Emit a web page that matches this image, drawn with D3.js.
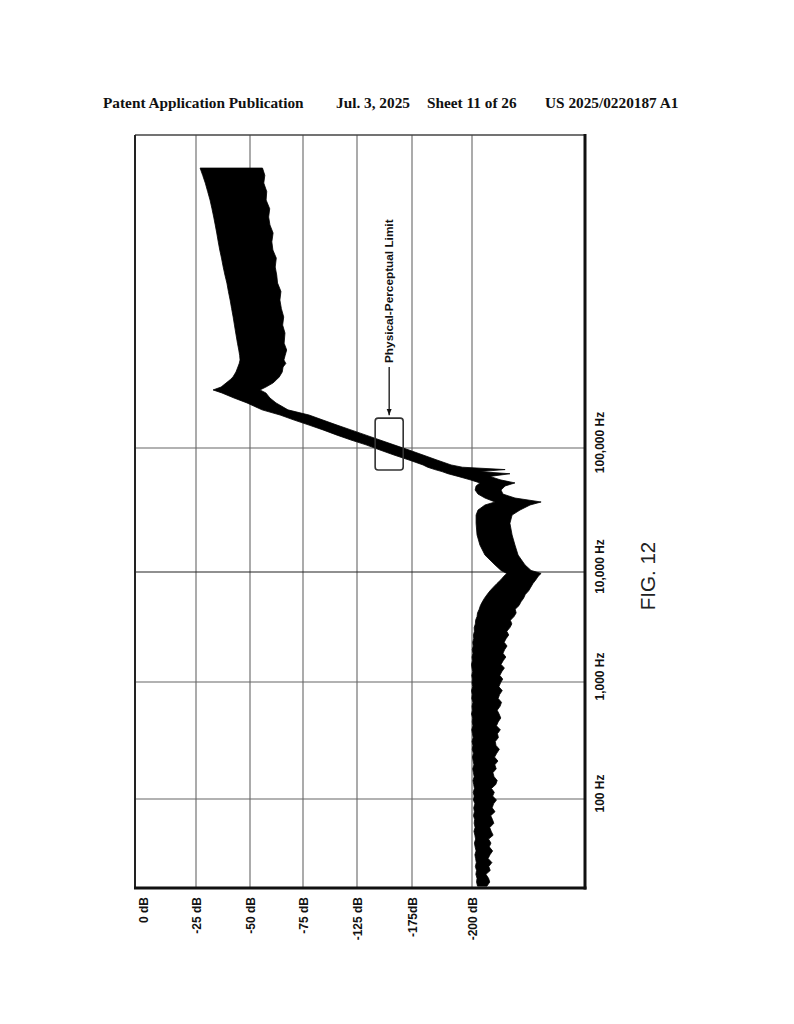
<!DOCTYPE html>
<html>
<head>
<meta charset="utf-8">
<script src="https://cdn.jsdelivr.net/npm/d3@7"></script>
<style>
  html, body { margin: 0; padding: 0; background: #fff; }
  svg { display: block; }
</style>
</head>
<body>
<svg id="chart" width="794" height="1024"></svg>
<script>
// ---------------- DATA ----------------
const headerTexts = ["Patent Application Publication", "Jul. 3, 2025", "Sheet 11 of 26", "US 2025/0220187 A1"];
const figureLabel = "FIG. 12";
const annotationText = "Physical-Perceptual Limit";

const dbTicks = [0, -25, -50, -75, -125, -175, -200];
const dbTickLabels = ["0 dB", "-25 dB", "-50 dB", "-75 dB", "-125 dB", "-175dB", "-200 dB"];
const freqTicks = [100, 1000, 10000, 100000];
const freqTickLabels = ["100 Hz", "1,000 Hz", "10,000 Hz", "100,000 Hz"];

// annotation box limits (data units)
const limitFreq = [66500, 174000];
const limitDb = [-141.5, -167];

// spectrum envelope: frequency (Hz), upper envelope (dB), lower envelope (dB)
const freqHz = [
  18, 19.5, 21, 22.7, 24.5, 26.5, 28.6, 31, 33.4, 36, 39, 42, 45.4, 49, 53, 57, 62, 67, 72, 78,
  84, 91, 98, 106, 114, 123, 133, 144, 155, 168, 181, 196, 211, 228, 246, 266, 287, 310, 335, 362,
  391, 422, 456, 492, 532, 574, 620, 670, 723, 781, 844, 911, 984, 1063, 1148, 1240, 1339, 1446, 1562, 1687,
  1822, 1968, 2125, 2295, 2479, 2677, 2891, 3123, 3372, 3642, 3934, 4248, 4588, 4955, 5352, 5780, 6242, 6742, 7281, 7864,
  8493, 9172, 9700,
  10300, 11400, 13700, 16500, 19900, 24700, 28800, 31600, 34700, 36700, 39500, 42500, 45800, 49400, 52300, 55400,
  59000, 62000, 64500, 67000, 70000, 73000, 80000, 87800, 96300, 106000, 116000, 127000, 140000, 153000, 168000, 184500,
  203000, 231000, 253000, 278000, 294000, 310000, 334000, 355000, 374000, 410000, 450000, 480000, 513000, 560000, 617000, 700000,
  846000, 980000, 1140000, 1330000, 1560000, 1830000, 2140000, 2480000, 2880000, 3400000, 3950000, 4600000, 5420000, 6300000, 7290000, 8500000,
  10000000, 11700000, 13700000, 15800000, 18100000
];
const upperDb = [
  -202.3, -201.9, -202.1, -201.6, -201.9, -201.4, -201.8, -201.5, -201.2, -201.7, -201.3, -201.0, -201.5, -201.2,
  -200.8, -201.3, -200.9, -201.1, -200.6, -201.0, -200.7, -201.2, -200.6, -200.9, -200.5, -201.0, -200.7, -200.4, -200.9, -200.6, -200.3, -200.8,
  -200.5, -200.2, -200.6, -200.1, -200.4, -200.0, -200.5, -200.2, -199.9, -200.4, -200.1, -200.3, -199.8, -200.2, -200.0, -200.4, -199.9, -200.1, -199.8, -200.3, -200.0,
  -200.2, -199.9, -200.3, -200.0, -199.8, -200.2, -200.0, -200.4, -200.1, -200.5, -200.3, -200.7, -200.6, -201.0, -200.9,
  -201.4, -201.5, -202.1, -202.3, -203.0, -203.5, -204.3, -205.2, -206.3, -207.5, -208.9, -210.4, -212.0, -213.3, -214.5,
  -212.1, -209.6, -205.4, -203.3, -202.1, -201.7, -201.7, -202.5, -205.4, -209.6, -205.4, -202.5, -201.3, -201.7, -203.3, -199.2,
  -194.2, -190.0, -187.5, -184.5, -181.5, -179.6, -172.3, -158.6, -145.9, -133.2, -119.4, -106.5, -93.5, -80.6, -70.8, -64.2,
  -55.7, -48.6, -42.6, -37.0, -32.9, -36.6, -38.9, -40.8, -42.1, -43.5, -44.4, -45.0, -45.4, -45.2, -44.8, -44.2,
  -43.4, -42.8, -42.2, -41.5, -40.8, -40.0, -39.3, -38.4, -37.6, -36.8, -36.0, -35.3, -34.6, -33.9, -33.2, -32.4,
  -31.5, -30.4, -29.3, -28.1, -26.9
];
const lowerDb = [
  -206.2, -207.4, -206.9, -205.8, -207.6, -207.0, -208.3, -206.7, -207.5, -208.6, -207.2, -207.9, -206.9, -208.8,
  -208.0, -207.4, -209.1, -208.5, -207.8, -209.6, -208.4, -209.0, -210.2, -208.6, -209.3, -208.1, -209.9, -210.5, -209.2, -208.7, -210.1, -209.5,
  -210.8, -209.4, -210.3, -211.4, -210.0, -209.7, -211.0, -210.6, -211.8, -210.2, -210.9, -212.0, -211.3, -210.5, -211.7, -212.3, -210.9, -211.5, -212.6, -211.2, -211.9,
  -212.8, -211.6, -212.4, -213.5, -212.1, -213.0, -214.1, -212.9, -213.6, -214.6, -213.4, -214.2, -215.3, -214.5, -215.8,
  -216.6, -216.0, -217.5, -218.4, -218.0, -219.6, -220.4, -221.5, -222.2, -223.6, -224.5, -225.4, -226.6, -227.6, -228.8,
  -224.6, -222.1, -219.2, -217.9, -216.7, -215.8, -216.7, -220.0, -224.2, -228.8, -217.9, -212.9, -212.1, -213.8, -217.9, -211.7,
  -207.5, -215.8, -203.3, -213.8, -196.0, -191.3, -185.4, -179.6, -172.3, -158.6, -145.9, -133.2, -119.4, -106.5, -93.5, -80.6,
  -67.9, -62.3, -59.4, -57.5, -54.7, -57.5, -60.8, -62.5, -63.8, -65.2, -65.6, -66.9, -66.0, -66.6, -67.3, -66.1,
  -66.5, -65.4, -65.9, -64.8, -64.1, -64.6, -63.0, -62.6, -61.9, -62.4, -60.8, -60.3, -60.9, -59.4, -58.8, -59.3,
  -57.6, -57.9, -56.5, -57.0, -55.9
];

// ---------------- LAYOUT ----------------
const svg = d3.select("#chart");
const frame = { left: 135, right: 585, top: 135, bottom: 888 };

// dB axis runs left -> right (chart is printed rotated 90 degrees)
const dbScale = d3.scaleLinear()
  .domain(dbTicks)
  .range([143, 196, 250, 303, 357, 412, 472]);
// frequency axis runs bottom -> top (log)
const fScale = d3.scaleLog()
  .domain(freqTicks)
  .range([799, 682, 572, 448]);

// header
const headerX = [103, 336, 427, 545];
svg.append("g").selectAll("text").data(headerTexts).join("text")
  .attr("x", (d, i) => headerX[i]).attr("y", 108)
  .attr("font-family", "'Liberation Serif', 'Times New Roman', serif")
  .attr("font-weight", "bold").attr("font-size", 15.3)
  .attr("fill", "#111")
  .text(d => d);

// gridlines
const grid = svg.append("g");
grid.selectAll("line.db").data(dbTicks.filter(d => d !== 0)).join("line")
  .attr("class", "db")
  .attr("x1", d => dbScale(d)).attr("x2", d => dbScale(d))
  .attr("y1", frame.top).attr("y2", frame.bottom)
  .attr("stroke", "#666").attr("stroke-width", 1.1);
grid.selectAll("line.fq").data(freqTicks).join("line")
  .attr("class", "fq")
  .attr("y1", d => fScale(d)).attr("y2", d => fScale(d))
  .attr("x1", frame.left).attr("x2", frame.right)
  .attr("stroke", d => d === 10000 ? "#222" : "#666").attr("stroke-width", 1.1);

// spectrum band
const data = freqHz.map((f, i) => ({ f, hi: upperDb[i], lo: lowerDb[i] }));
const area = d3.area()
  .y(d => fScale(d.f))
  .x0(d => dbScale(d.hi))
  .x1(d => dbScale(d.lo))
  .curve(d3.curveLinear);
svg.append("path").datum(data)
  .attr("d", area)
  .attr("fill", "#000")
  .attr("stroke", "#000").attr("stroke-width", 0.8);

// frame
svg.append("line").attr("x1", frame.left).attr("x2", frame.right).attr("y1", frame.top).attr("y2", frame.top)
  .attr("stroke", "#444").attr("stroke-width", 1.5);
svg.append("line").attr("x1", frame.left).attr("x2", frame.left).attr("y1", frame.top).attr("y2", frame.bottom)
  .attr("stroke", "#222").attr("stroke-width", 2);
svg.append("line").attr("x1", frame.right).attr("x2", frame.right).attr("y1", frame.top - 1).attr("y2", frame.bottom + 1.5)
  .attr("stroke", "#111").attr("stroke-width", 3);
svg.append("line").attr("x1", frame.left - 1).attr("x2", frame.right + 1.5).attr("y1", frame.bottom).attr("y2", frame.bottom)
  .attr("stroke", "#111").attr("stroke-width", 3.2);

// dB axis (labels printed rotated)
const dbAxis = d3.axisBottom(dbScale)
  .tickValues(dbTicks)
  .tickSize(0)
  .tickFormat((d, i) => dbTickLabels[i]);
const gDb = svg.append("g").attr("transform", `translate(0,${frame.bottom})`).call(dbAxis);
gDb.select(".domain").remove();
gDb.selectAll("text")
  .attr("transform", "translate(0,9) rotate(-90)")
  .attr("x", 0).attr("y", 0).attr("dy", "0.35em")
  .attr("text-anchor", "end")
  .attr("font-family", "'Liberation Sans', Arial, sans-serif")
  .attr("font-weight", "bold").attr("font-size", 12)
  .attr("fill", "#111");

// frequency axis
const fAxis = d3.axisRight(fScale)
  .tickValues(freqTicks)
  .tickSize(0)
  .tickFormat((d, i) => freqTickLabels[i]);
const gF = svg.append("g").attr("transform", `translate(${frame.right},0)`).call(fAxis);
gF.select(".domain").remove();
gF.selectAll("text")
  .attr("transform", "translate(15,-6) rotate(-90)")
  .attr("x", 0).attr("y", 0).attr("dy", "0.35em")
  .attr("text-anchor", "middle")
  .attr("font-family", "'Liberation Sans', Arial, sans-serif")
  .attr("font-weight", "bold").attr("font-size", 12)
  .attr("fill", "#111");

// annotation box + arrow + text
const bx0 = dbScale(limitDb[0]), bx1 = dbScale(limitDb[1]);
const by0 = fScale(limitFreq[1]), by1 = fScale(limitFreq[0]);
svg.append("rect")
  .attr("x", bx0).attr("y", by0).attr("width", bx1 - bx0).attr("height", by1 - by0)
  .attr("rx", 3).attr("fill", "none").attr("stroke", "#333").attr("stroke-width", 1.6);
const ax = (bx0 + bx1) / 2;
svg.append("defs").append("marker")
  .attr("id", "arr").attr("viewBox", "0 0 10 10").attr("refX", 10).attr("refY", 5)
  .attr("markerWidth", 5).attr("markerHeight", 5).attr("orient", "auto")
  .append("path").attr("d", "M0,1 L10,5 L0,9 Z").attr("fill", "#111");
svg.append("line").attr("x1", ax).attr("x2", ax).attr("y1", 367).attr("y2", by0 - 3)
  .attr("stroke", "#111").attr("stroke-width", 1.3).attr("marker-end", "url(#arr)");
svg.append("text")
  .attr("transform", `translate(${ax},363) rotate(-90)`)
  .attr("dy", "0.35em")
  .attr("font-family", "'Liberation Sans', Arial, sans-serif")
  .attr("font-weight", "bold").attr("font-size", 11.8)
  .attr("fill", "#111")
  .text(annotationText);

// figure label
svg.append("text")
  .attr("transform", "translate(648,576) rotate(-90)")
  .attr("dy", "0.35em").attr("text-anchor", "middle")
  .attr("font-family", "'Liberation Sans', Arial, sans-serif")
  .attr("font-size", 20.5).attr("fill", "#222")
  .text(figureLabel);
</script>
</body>
</html>
